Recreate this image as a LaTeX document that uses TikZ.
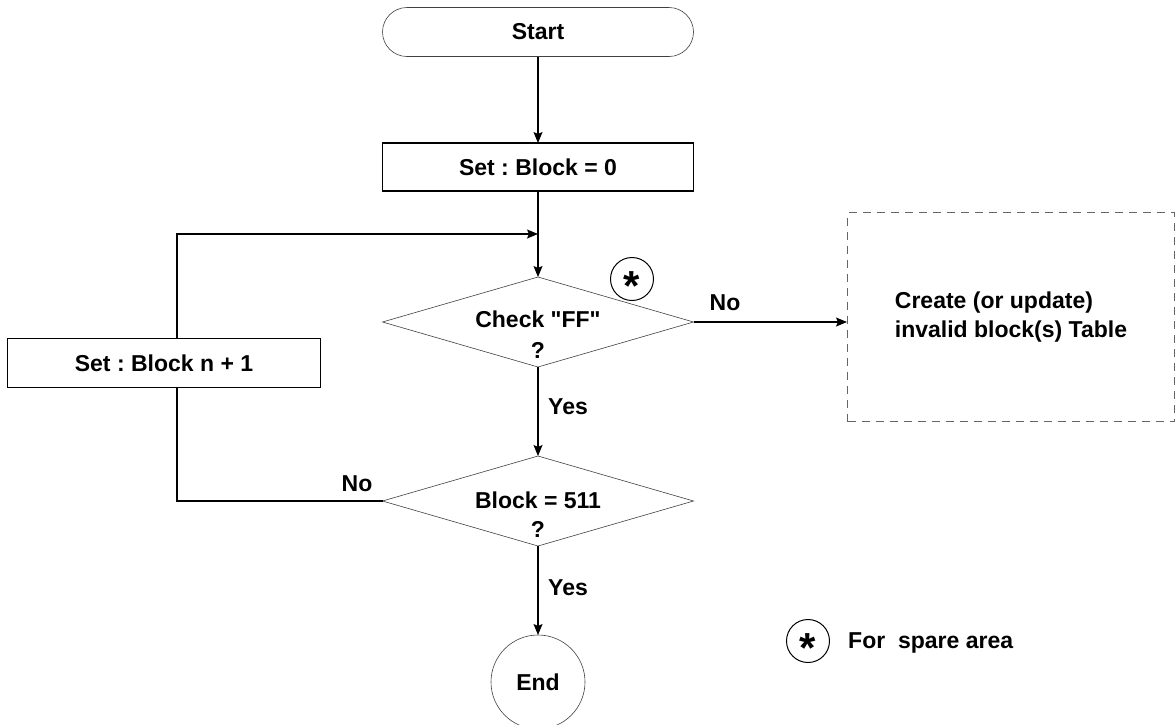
\documentclass[tikz,border=0pt]{standalone}
\usepackage{fontspec}
\setmainfont{Liberation Sans}
\usetikzlibrary{shapes.geometric,shapes.misc,arrows.meta,positioning}

\frenchspacing
\newcommand{\sparestar}{{\fontsize{42}{42}\selectfont\bfseries\raisebox{-0.52em}[0pt][0pt]{*}}}

\tikzset{
  txt/.style={font=\fontsize{23}{29}\selectfont\bfseries},
  terminal/.style={rounded rectangle, draw=black!75, line width=0.6pt, inner sep=0pt, outer sep=0pt,
    minimum width=311pt, minimum height=49pt, txt},
  process/.style={rectangle, draw=black, line width=1.2pt, inner sep=0pt, outer sep=0pt,
    minimum width=311pt, minimum height=48pt, txt},
  decision/.style={diamond, draw=black!75, line width=0.6pt, inner sep=0pt, outer sep=0pt,
    minimum width=311pt, minimum height=90pt},
  stop/.style={circle, draw=black!75, line width=0.6pt, inner sep=0pt, outer sep=0pt,
    minimum size=94pt, txt},
  spare/.style={circle, draw=black, line width=1pt, inner sep=0pt, outer sep=0pt, minimum size=43pt},
  table/.style={rectangle, draw=black!60, line width=1pt, dash pattern=on 8pt off 6pt,
    minimum width=327pt, minimum height=209pt, align=left, txt},
  answer/.style={txt, inner sep=0pt},
  flow/.style={line width=1.2pt, -{Stealth[length=11pt, width=9pt, inset=2pt]}},
  link/.style={line width=1.2pt}
}

\begin{document}
\begin{tikzpicture}[x=1pt, y=-1pt]

  % Bounding box of the scheme
  \useasboundingbox (0,0) rectangle (1176,724) ;

  %%%%%%%%%%%%%%%%%%%%%%%%%%%%%%%%% Blocs du schema %%%%%%%%%%%%%%%%%%%%%%%%%%%%%%%%%%%%
  \draw (538,32) node[terminal] (start) {Start} ;
  \draw (538,167) node[process] (init) {Set : Block = 0} ;
  \draw (538,322) node[decision] (check) {} ;
  \draw (538,501) node[decision] (last) {} ;
  \draw (164,363) node[process, minimum width=313pt, minimum height=49pt] (next) {Set : Block n + 1} ;
  \draw (538,682) node[stop] (end) {End} ;
  \draw (1011,317) node[table] (tbl) {Create (or update)\\invalid block(s) Table} ;

  % Textes des losanges
  \draw (538,335) node[txt, align=center, font=\fontsize{23}{31}\selectfont\bfseries] (checktxt) {Check \textquotedbl FF\textquotedbl\\?} ;
  \draw (538,515) node[txt, align=center, font=\fontsize{23}{29}\selectfont\bfseries] (lasttxt) {Block = 511\\?} ;

  % Zone de reserve
  \draw (632,279) node[spare] (mark) {\sparestar} ;
  \draw (808,641) node[spare] (legend) {\sparestar} ;
  \draw (848,643) node[txt, anchor=west, inner sep=0pt] (legendtxt) {For~ spare area} ;

  % Reponses
  \draw (725,303) node[answer] (no1) {No} ;
  \draw (568,407) node[answer] (yes1) {Yes} ;
  \draw (357,484) node[answer] (no2) {No} ;
  \draw (568,588) node[answer] (yes2) {Yes} ;

  %%%%%%%%%%%%%%%%%%%%%%%%%%%%%%%%%%%% Liaisons %%%%%%%%%%%%%%%%%%%%%%%%%%%%%%%%%%%%%
  \coordinate (merge) at (538,234) ;
  \coordinate (loop) at (177,0) ;

  \draw[flow] (start) -- (init) ;
  \draw[flow] (init) -- (check) ;
  \draw[flow] (check.east) -- (check.east -| tbl.west) ;
  \draw[flow] (check) -- (last) ;
  \draw[flow] (last) -- (end) ;
  \draw[link] (last.west) -| (loop |- next.south) ;
  \draw[flow] (loop |- next.north) |- (merge) ;

\end{tikzpicture}
\end{document}
